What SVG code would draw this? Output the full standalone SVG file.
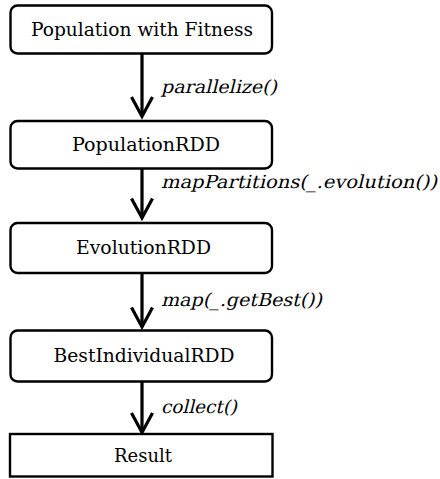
<svg xmlns="http://www.w3.org/2000/svg" width="440" height="479" viewBox="0 0 440 479">
<style>
.box{fill:#fff;stroke:#000;stroke-width:2.4}
.t{font-family:"DejaVu Serif","Liberation Serif","Times New Roman",serif;font-size:18px;text-anchor:middle;fill:#000}
.l{font-family:"DejaVu Serif","Liberation Serif","Times New Roman",serif;font-size:18px;fill:#000}
.c{fill:none;stroke:#000;stroke-width:3.2}
</style>
<g id="connectors">
<path class="c" d="M142,54 V116"/>
<path class="c" d="M142,169 V218"/>
<path class="c" d="M142,274 V327"/>
<path class="c" d="M142,382 V432"/>
<g stroke="#000" stroke-width="3.2" fill="none">
<path d="M131.5,97 L142,116.5 L152.5,97"/>
<path d="M131.5,198.5 L142,218 L152.5,198.5"/>
<path d="M131.5,307.5 L142,327 L152.5,307.5"/>
<path d="M131.5,413 L142,432.5 L152.5,413"/>
</g>
<text class="l" transform="translate(161,93) skewX(-14)" textLength="116" lengthAdjust="spacingAndGlyphs">parallelize()</text>
<text class="l" transform="translate(161,188) skewX(-14)" textLength="276" lengthAdjust="spacingAndGlyphs">mapPartitions(_.evolution())</text>
<text class="l" transform="translate(161,306) skewX(-14)" textLength="161" lengthAdjust="spacingAndGlyphs">map(_.getBest())</text>
<text class="l" transform="translate(161,413) skewX(-14)" textLength="76" lengthAdjust="spacingAndGlyphs">collect()</text>
</g>
<g id="n1">
<rect class="box" x="10.5" y="5.5" width="261.5" height="48" rx="7"/>
<text class="t" x="142" y="36" textLength="222" lengthAdjust="spacingAndGlyphs">Population with Fitness</text>
</g>
<g id="n2">
<rect class="box" x="10.5" y="121" width="261.5" height="47.5" rx="7"/>
<text class="t" x="146" y="151" textLength="148" lengthAdjust="spacingAndGlyphs">PopulationRDD</text>
</g>
<g id="n3">
<rect class="box" x="10.5" y="223" width="261.5" height="50" rx="7"/>
<text class="t" x="143.5" y="254" textLength="135" lengthAdjust="spacingAndGlyphs">EvolutionRDD</text>
</g>
<g id="n4">
<rect class="box" x="10.5" y="330.5" width="261.5" height="51" rx="7"/>
<text class="t" x="144" y="362" textLength="181" lengthAdjust="spacingAndGlyphs">BestIndividualRDD</text>
</g>
<g id="n5">
<rect class="box" x="10" y="434" width="262.5" height="42.5"/>
<text class="t" x="143" y="462" textLength="58" lengthAdjust="spacingAndGlyphs">Result</text>
</g>
</svg>
